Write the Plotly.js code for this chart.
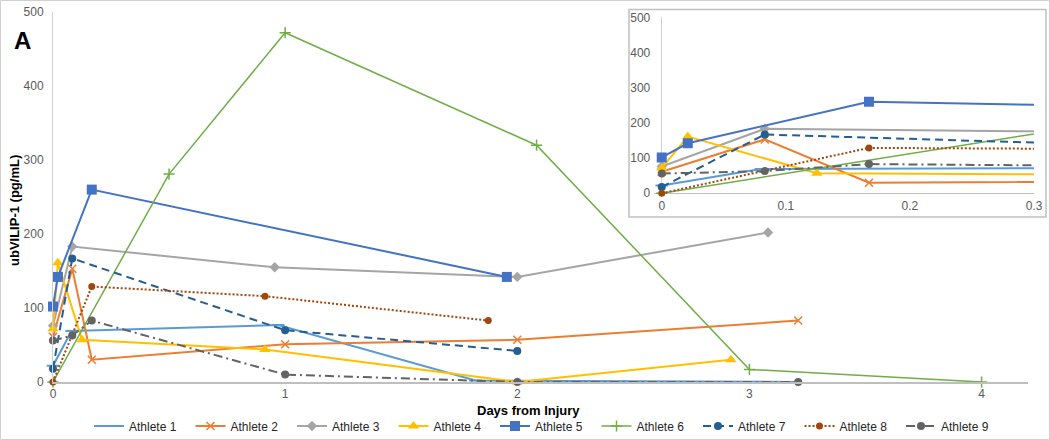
<!DOCTYPE html>
<html><head><meta charset="utf-8">
<script src="https://cdn.plot.ly/plotly-3.0.1.min.js"></script>
<style>html,body{margin:0;padding:0;background:#fff}#chart{width:1050px;height:440px}</style>
</head><body><div id="chart"></div>
<script>
// ---- data (days from injury, ubVILIP-1 pg/mL) ----
const names = ['Athlete 1','Athlete 2','Athlete 3','Athlete 4','Athlete 5','Athlete 6','Athlete 7','Athlete 8','Athlete 9'];
const days1 = [0, 0.08, 0.97, 1.82, 3.2];
const vals1 = [22, 69, 77, 2, 0];
const days2 = [0, 0.083, 0.167, 1.0, 2.0, 3.21];
const vals2 = [61, 153, 30, 51, 57, 83];
const days3 = [0, 0.083, 0.955, 2.0, 3.08];
const vals3 = [76, 183, 155, 142, 202];
const days4 = [0, 0.021, 0.125, 0.913, 2.0, 2.92];
const vals4 = [72, 161, 57, 44, 0, 30];
const days5 = [0, 0.021, 0.167, 1.955];
const vals5 = [102, 142, 260, 142];
const days6 = [0, 0.5, 1.0, 2.083, 3.0, 4.0];
const vals6 = [0, 281, 472, 320, 17, 0];
const days7 = [0, 0.083, 1.0, 2.0];
const vals7 = [18, 167, 70, 42];
const days8 = [0, 0.167, 0.913, 1.875];
const vals8 = [0, 129, 116, 83];
const days9 = [0, 0.083, 0.167, 1.0, 2.0, 3.21];
const vals9 = [56, 63, 83, 10, 0, 0];
const mainTicks = [0, 1, 2, 3, 4];
const insetTicks = [0, 0.1, 0.2, 0.3];
const yTicks = [0, 100, 200, 300, 400, 500];

const allDays = [days1, days2, days3, days4, days5, days6, days7, days8, days9];
const allVals = [vals1, vals2, vals3, vals4, vals5, vals6, vals7, vals8, vals9];

// ---- styles ----
const styles = [
  {color:'#5B9BD5', dash:'solid', symbol:'line-ew', size:9, mline:2},
  {color:'#ED7D31', dash:'solid', symbol:'x-thin', size:8, mline:1.5},
  {color:'#A5A5A5', dash:'solid', symbol:'diamond', size:8, mline:0},
  {color:'#FFC000', dash:'solid', symbol:'triangle-up', size:10, mline:0},
  {color:'#4472C4', dash:'solid', symbol:'square', size:10, mline:0},
  {color:'#70AD47', dash:'solid', symbol:'cross-thin', size:8, mline:1.5},
  {color:'#255E91', dash:'8px,5px', symbol:'circle', size:8, mline:0},
  {color:'#9E480E', dash:'2px,2px', symbol:'circle', size:7, mline:0},
  {color:'#636363', dash:'9px,4px,2px,4px', symbol:'circle', size:8, mline:0}
];

const FONT = '"Liberation Sans", Arial, sans-serif';
const traces = [];
names.forEach((n, i) => {
  const s = styles[i];
  traces.push({
    type:'scatter', mode:'lines+markers', name:n,
    x: allDays[i], y: allVals[i],
    xaxis:'x', yaxis:'y', cliponaxis:false, showlegend:true,
    line:{color:s.color, width: i===5 ? 1.5 : 2, dash:s.dash},
    marker:{symbol:s.symbol, size:s.size, color:s.color, line:{color:s.color, width:s.mline}},
    hoverinfo:'skip'
  });
});
names.forEach((n, i) => {
  const s = styles[i];
  traces.push({
    type:'scatter', mode:'lines+markers', name:n,
    x: allDays[i], y: allVals[i],
    xaxis:'x2', yaxis:'y2', showlegend:false, cliponaxis:true,
    line:{color:s.color, width: i===5 ? 1.5 : 2, dash:s.dash},
    marker:{symbol:s.symbol, size:s.size, color:s.color, line:{color:s.color, width:s.mline}},
    hoverinfo:'skip'
  });
});

const PW = 982, PH = 370, L = 53, T = 12;
const px = v => (v - L) / PW;
const py = v => (T + PH - v) / PH;

const layout = {
  width:1050, height:440,
  margin:{l:L, r:15, t:T, b:58, pad:0, autoexpand:false},
  paper_bgcolor:'#ffffff', plot_bgcolor:'rgba(0,0,0,0)',
  font:{family:FONT, size:12, color:'#595959'},
  showlegend:true,
  legend:{orientation:'h', xref:'container', yref:'container', x:89/1050, xanchor:'left',
          y:(440-426)/440, yanchor:'middle',
          font:{family:FONT, size:12, color:'#262626'}, entrywidth:56.5, entrywidthmode:'pixels',
          bgcolor:'rgba(0,0,0,0)', borderwidth:0, traceorder:'normal'},
  xaxis:{domain:[0, px(1028)], range:[0, 4.2], tickvals:mainTicks, showgrid:false, zeroline:false,
         showline:true, linecolor:'#bfbfbf', linewidth:2, ticks:'', fixedrange:true,
         tickfont:{size:12, color:'#595959'}},
  yaxis:{domain:[0,1], range:[0,500], tickvals:yTicks, showgrid:false, zeroline:false,
         showline:true, linecolor:'#d0d0d0', linewidth:1, ticks:'', fixedrange:true,
         ticklabelstandoff:6, tickfont:{size:12, color:'#595959'}},
  xaxis2:{domain:[px(654.3), px(1034)], range:[-0.006, 0.3], anchor:'y2', tickvals:insetTicks,
          showgrid:false, zeroline:true, zerolinecolor:'#d0d0d0', zerolinewidth:1, showline:false,
          ticks:'', fixedrange:true, tickfont:{size:12, color:'#595959'}},
  yaxis2:{domain:[py(196.8), py(17.3)], range:[-10, 500], anchor:'x2', tickvals:yTicks,
          showgrid:false, zeroline:true, zerolinecolor:'#bfbfbf', zerolinewidth:1.5, showline:false,
          ticks:'', fixedrange:true, ticklabelstandoff:3, tickfont:{size:12, color:'#595959'}},
  shapes:[
    {type:'rect', xref:'paper', yref:'paper', x0:px(629), x1:px(1046), y0:py(217), y1:py(9.5),
     fillcolor:'#ffffff', line:{color:'#c0c0c0', width:1.5}, layer:'below'},
    {type:'rect', xref:'paper', yref:'paper', x0:px(0.5), x1:px(1049.5), y0:py(439.5), y1:py(0.5),
     fillcolor:'rgba(0,0,0,0)', line:{color:'#d0d0d0', width:1}, layer:'below'}
  ],
  annotations:[
    {text:'<b>A</b>', xref:'paper', yref:'paper', x:px(22), y:py(40), xanchor:'center', yanchor:'middle',
     showarrow:false, font:{family:FONT, size:24, color:'#000000'}},
    {text:'<b>ubVILIP-1 (pg/mL)</b>', xref:'paper', yref:'paper', x:px(14), y:py(211), textangle:-90,
     xanchor:'center', yanchor:'middle', showarrow:false, font:{family:FONT, size:13, color:'#000000'}},
    {text:'<b>Days from Injury</b>', xref:'paper', yref:'paper', x:px(528), y:py(410),
     xanchor:'center', yanchor:'middle', showarrow:false, font:{family:FONT, size:13, color:'#000000'}}
  ]
};

Plotly.newPlot('chart', traces, layout, {displayModeBar:false, staticPlot:true});
</script>
</body></html>
